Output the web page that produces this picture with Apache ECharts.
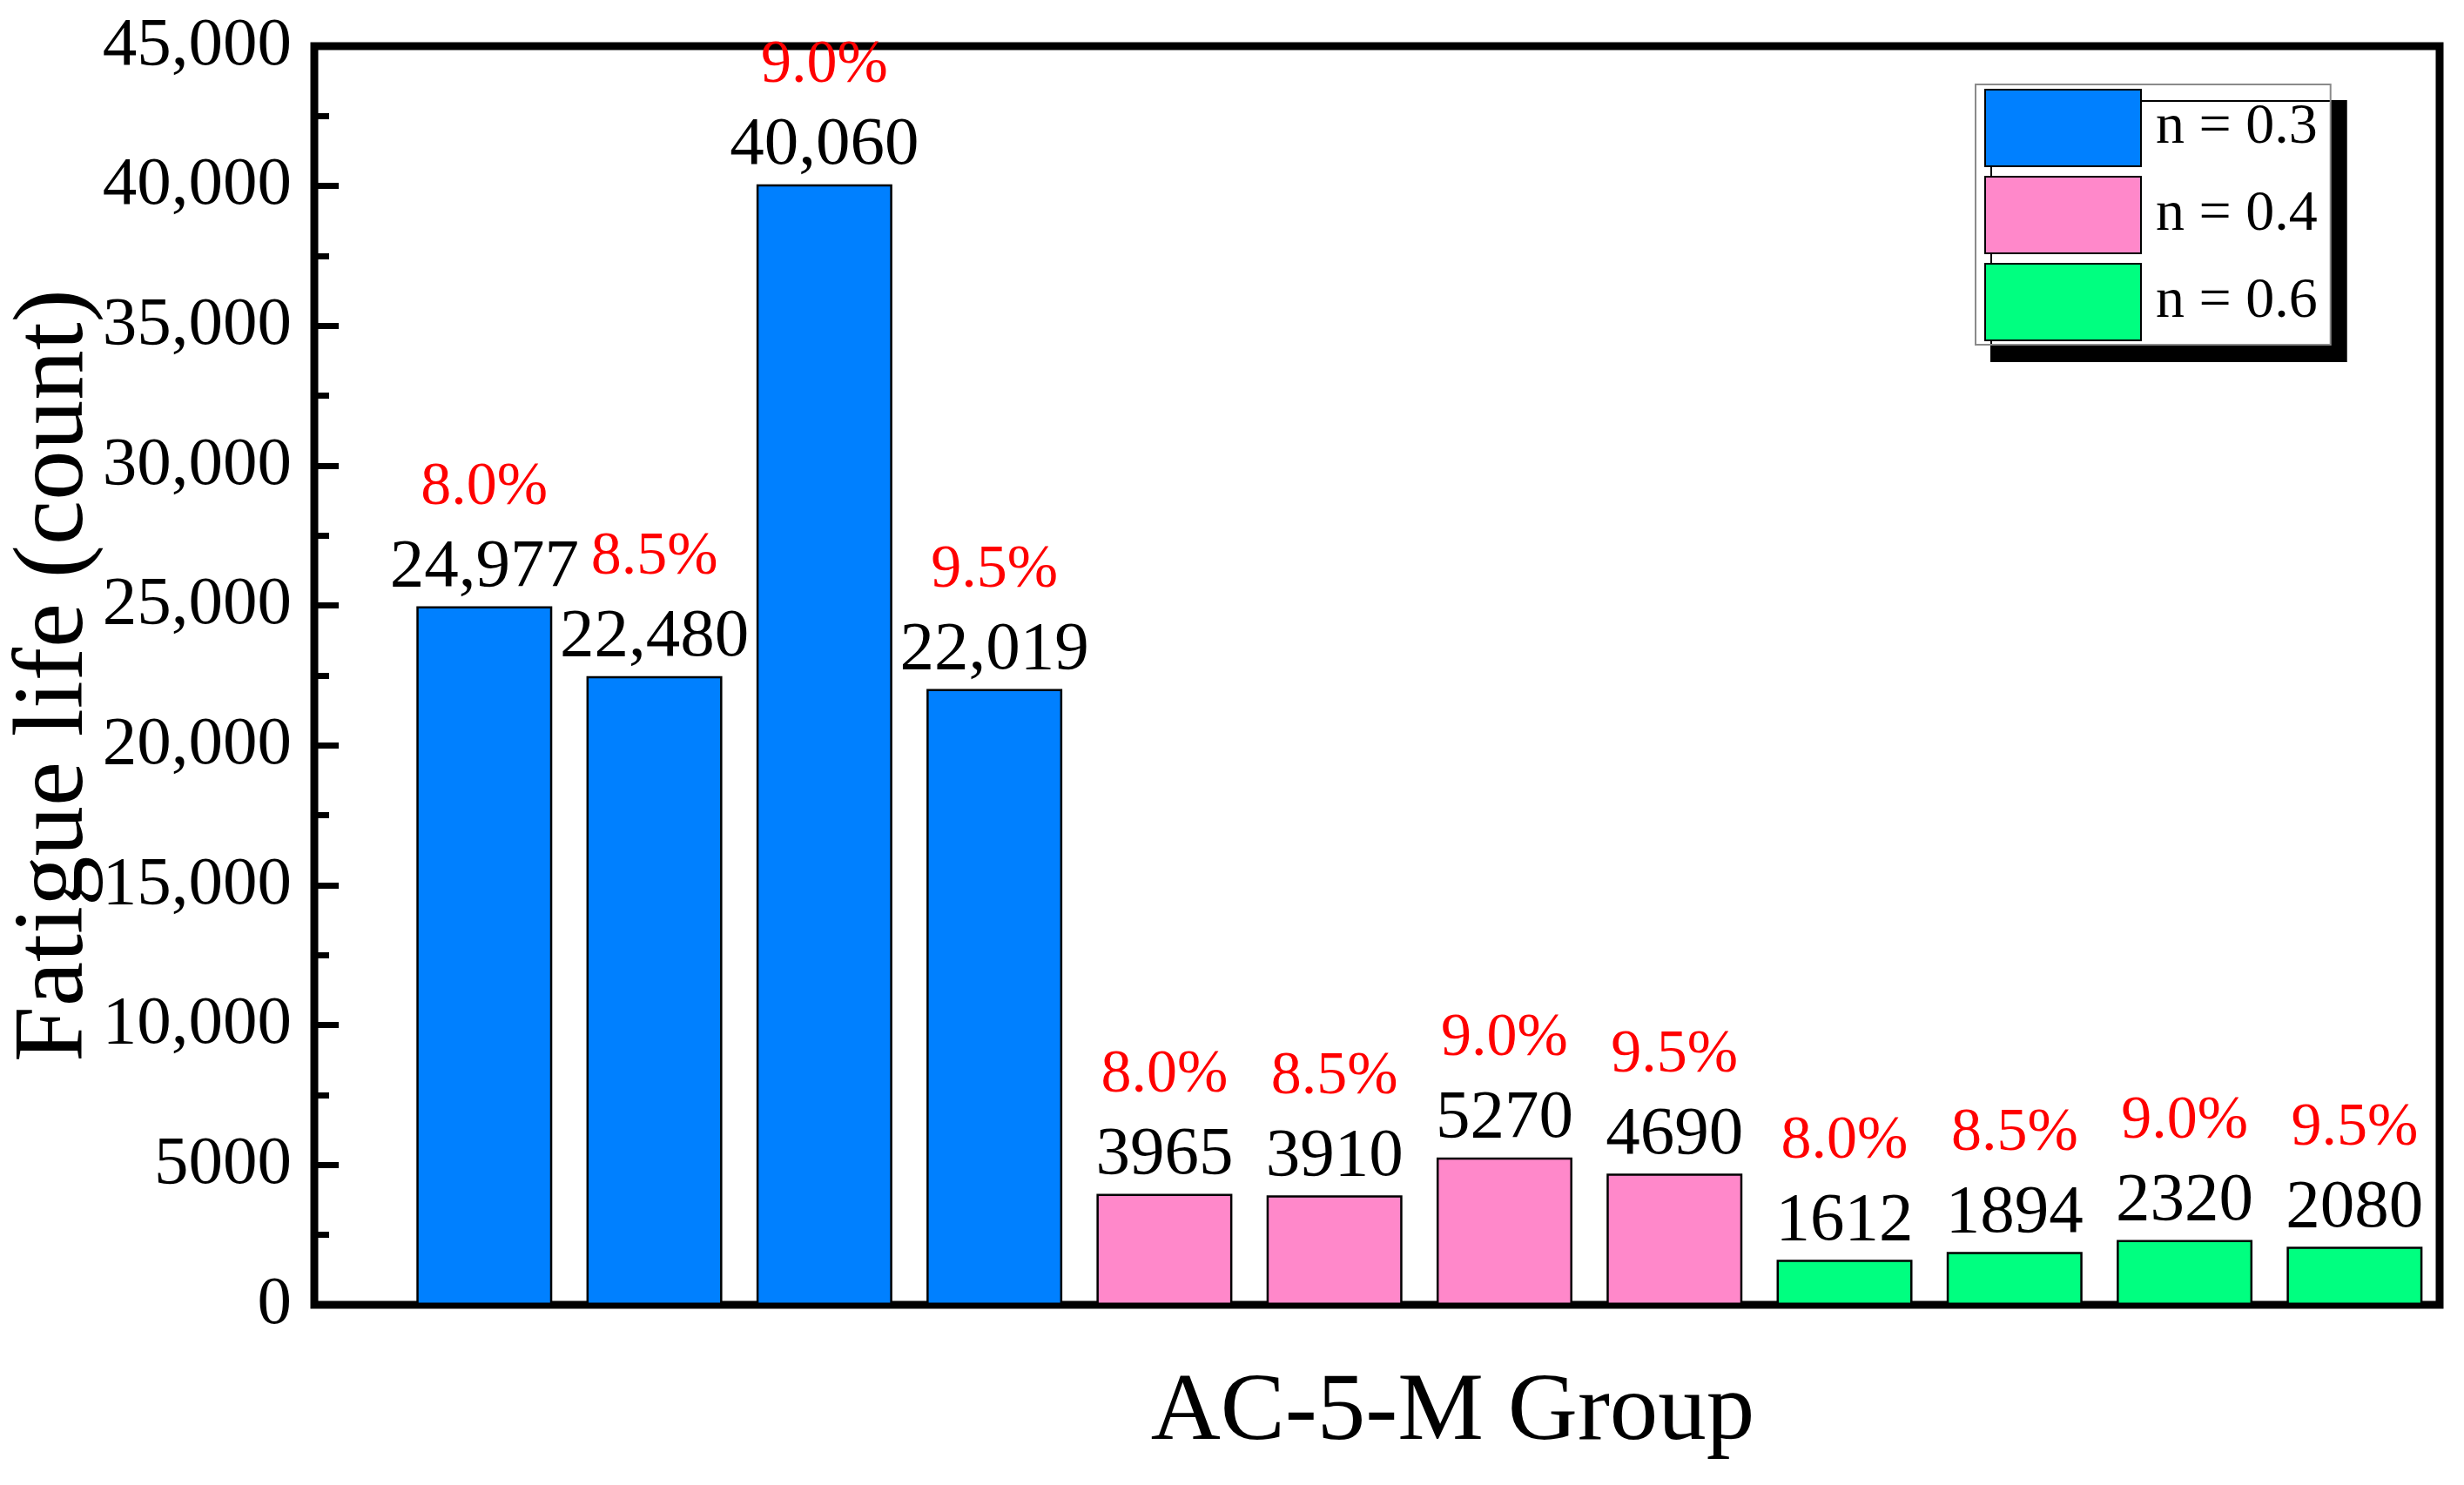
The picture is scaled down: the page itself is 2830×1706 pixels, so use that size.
<!DOCTYPE html>
<html>
<head>
<meta charset="utf-8">
<script src="https://cdn.jsdelivr.net/npm/echarts@6/dist/echarts.min.js"></script>
<style>
html,body{margin:0;padding:0;background:#fff;}
#chart{width:2830px;height:1706px;}
</style>
</head>
<body>
<div id="chart"></div>
<script>
// ---- data ----
const percents = ['8.0%', '8.5%', '9.0%', '9.5%'];
const seriesNames = ['n = 0.3', 'n = 0.4', 'n = 0.6'];
const valuesN03 = [24977, 22480, 40060, 22019];
const valuesN04 = [3965, 3910, 5270, 4690];
const valuesN06 = [1612, 1894, 2320, 2080];
const yTicks = [0, 5000, 10000, 15000, 20000, 25000, 30000, 35000, 40000, 45000];
const xTitle = 'AC-5-M Group';
const yTitle = 'Fatigue life (count)';

const colors = ['#0080FF', '#FF88CA', '#00FF80'];
const groups = [valuesN03, valuesN04, valuesN06];
const FONT = "'Liberation Serif', 'Times New Roman', serif";

function fmt(v) {
  return v >= 10000 ? v.toLocaleString('en-US') : String(v);
}

const series = groups.map((vals, g) => ({
  name: seriesNames[g],
  type: 'bar',
  barWidth: 156,
  barGap: '-100%',
  itemStyle: { color: colors[g], borderColor: '#000', borderWidth: 2.5 },
  data: vals.map((v, i) => ({ value: [g * percents.length + i + 1, v], pct: percents[i] })),
  label: {
    show: true,
    position: 'top',
    distance: 5,
    formatter: p => '{p|' + p.data.pct + '}\n{v|' + fmt(p.data.value[1]) + '}',
    rich: {
      p: { fontFamily: FONT, fontSize: 70, color: '#FF0000', lineHeight: 106, align: 'center' },
      v: { fontFamily: FONT, fontSize: 79, color: '#000', lineHeight: 78, align: 'center' }
    }
  }
}));

const chart = echarts.init(document.getElementById('chart'));
chart.setOption({
  animation: false,
  backgroundColor: '#fff',
  grid: {
    left: 361, right: 28, top: 53, bottom: 207,
    outerBoundsMode: 'none', containLabel: false,
    show: true, borderColor: '#000', borderWidth: 9, backgroundColor: 'transparent'
  },
  legend: {
    orient: 'vertical',
    left: 2269, top: 97,
    data: seriesNames,
    icon: 'rect',
    itemWidth: 179, itemHeight: 88, itemGap: 10,
    padding: [5, 15, 4, 10],
    backgroundColor: '#fff',
    borderColor: '#8a8a8a', borderWidth: 2,
    shadowColor: '#000', shadowBlur: 0, shadowOffsetX: 18, shadowOffsetY: 19,
    textStyle: { fontFamily: FONT, fontSize: 66, color: '#000', padding: [0, 0, 0, 12] },
    selectedMode: false
  },
  xAxis: {
    type: 'value', min: 0, max: 12.5,
    name: xTitle, nameLocation: 'middle', nameGap: 69, nameMoveOverlap: false,
    nameTextStyle: { fontFamily: FONT, fontSize: 111, color: '#000', padding: [0, 0, 0, 174] },
    axisLine: { show: true, lineStyle: { color: '#000', width: 8 } },
    axisTick: { show: false }, axisLabel: { show: false }, splitLine: { show: false }
  },
  yAxis: {
    type: 'value', min: yTicks[0], max: yTicks[yTicks.length - 1], interval: yTicks[1] - yTicks[0],
    name: yTitle, nameLocation: 'middle', nameGap: 240, nameMoveOverlap: false,
    nameTextStyle: { fontFamily: FONT, fontSize: 115, color: '#000' },
    axisLine: { show: true, lineStyle: { color: '#000', width: 8 } },
    axisTick: { show: true, inside: true, length: 28, lineStyle: { color: '#000', width: 7 } },
    minorTick: { show: true, splitNumber: 2, length: 17, lineStyle: { color: '#000', width: 7 } },
    axisLabel: { fontFamily: FONT, fontSize: 79, color: '#000', margin: 26, formatter: v => fmt(v) },
    splitLine: { show: false }
  },
  series: series
});
</script>
</body>
</html>
